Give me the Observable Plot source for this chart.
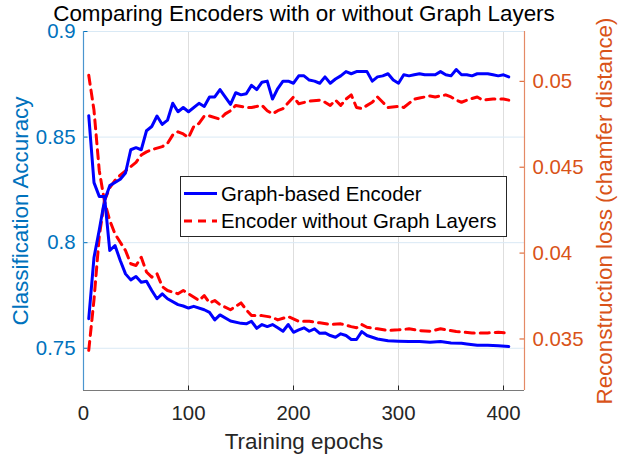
<!DOCTYPE html>
<html><head><meta charset="utf-8">
<script src="https://cdn.jsdelivr.net/npm/d3@7"></script>
<script src="https://cdn.jsdelivr.net/npm/@observablehq/plot@0.6"></script>
<style>
html,body{margin:0;padding:0;background:#fff;}
#wrap{position:relative;width:620px;height:454px;overflow:hidden;font-family:"Liberation Sans",Arial,sans-serif;}
#wrap svg{position:absolute;left:0;top:0;}
</style></head><body><div id="wrap"></div>
<script>
const titleText = "Comparing Encoders with or without Graph Layers";
const xLabel = "Training epochs";
const accLabel = "Classification Accuracy";
const lossLabel = "Reconstruction loss (chamfer distance)";
const seriesNames = ["Graph-based Encoder", "Encoder without Graph Layers"];
const xTicks = [0, 100, 200, 300, 400];
const accTicks = [0.75, 0.8, 0.85, 0.9];
const lossTicks = [0.035, 0.04, 0.045, 0.05];
const xDomain = [0, 420];
const accDomain = [0.73, 0.9];
const lossDomain = [0.032, 0.0529];

// Graph-based Encoder: classification accuracy (left axis)
const graphAccEpochs = [5,10,15,20,25,35,40,45,50,55,60,65,70,75,80,85,90,95,100,110,115,120,125,130,140,145,150,155,160,165,170,175,180,185,190,195,200,205,210,215,220,225,230,235,240,245,250,255,260,265,270,275,280,285,290,295,300,305,310,315,320,325,335,340,345,350,355,360,365,370,375,385,390,395,400,405];
const graphAcc = [0.764,0.793,0.806,0.820,0.827,0.830,0.833,0.844,0.845,0.844,0.853,0.855,0.860,0.856,0.858,0.866,0.862,0.864,0.862,0.866,0.8645,0.869,0.869,0.8725,0.8655,0.871,0.870,0.8705,0.8745,0.8725,0.876,0.8765,0.868,0.873,0.8765,0.8765,0.8755,0.879,0.879,0.877,0.8765,0.8755,0.8785,0.8755,0.8775,0.879,0.881,0.880,0.881,0.881,0.881,0.8765,0.8785,0.879,0.880,0.877,0.8755,0.8795,0.879,0.8795,0.880,0.8795,0.8795,0.881,0.8795,0.879,0.882,0.8795,0.8795,0.879,0.880,0.880,0.8795,0.879,0.8795,0.8785];

// Encoder without Graph Layers: classification accuracy (left axis)
const plainAccEpochs = [5,10,15,20,25,30,35,45,50,55,60,65,75,80,85,90,95,100,105,110,115,120,130,135,140,145,155,160,170,175,180,185,190,200,205,215,225,230,235,240,245,250,255,260,265,275,280,285,290,300,305,315,320,330,335,345,350,355,360,365,375,380,390,395,400,405];
const plainAcc = [0.749,0.773,0.803,0.820,0.826,0.8295,0.832,0.836,0.838,0.8415,0.843,0.844,0.8455,0.847,0.851,0.8525,0.8515,0.8498,0.855,0.8565,0.860,0.860,0.8585,0.861,0.8625,0.865,0.864,0.864,0.865,0.8625,0.861,0.8625,0.8635,0.869,0.8658,0.867,0.8675,0.8665,0.865,0.8675,0.865,0.868,0.870,0.864,0.8635,0.8665,0.869,0.8665,0.864,0.8645,0.864,0.868,0.8685,0.8695,0.869,0.870,0.869,0.8675,0.8665,0.8675,0.869,0.8675,0.868,0.868,0.868,0.8675];

// Graph-based Encoder: reconstruction loss (right axis)
const graphLossEpochs = [5,10,15,20,25,30,35,40,45,50,55,60,65,70,75,80,90,95,100,105,115,120,125,130,140,150,155,160,165,170,175,180,185,190,195,200,205,210,215,220,225,230,235,240,245,250,255,260,265,270,275,280,290,300,310,320,330,340,350,360,365,375,385,395,405];
const graphLoss = [0.0480,0.0441,0.0433,0.0433,0.04015,0.04044,0.03957,0.03879,0.03844,0.03864,0.0383,0.03836,0.03782,0.03734,0.03763,0.03734,0.0370,0.03692,0.0368,0.0369,0.0367,0.03655,0.03611,0.0364,0.03605,0.03591,0.03588,0.03603,0.03562,0.03584,0.03572,0.03584,0.03565,0.03545,0.03584,0.03539,0.03553,0.03565,0.03545,0.03559,0.03533,0.03535,0.0352,0.0351,0.0353,0.0352,0.03497,0.03497,0.03543,0.0352,0.0351,0.0350,0.0349,0.03487,0.03485,0.03485,0.03481,0.03485,0.03477,0.03475,0.03471,0.03463,0.03463,0.03461,0.03456];

// Encoder without Graph Layers: reconstruction loss (right axis)
const plainLossEpochs = [5,10,15,20,25,30,35,40,45,50,55,60,65,70,75,80,90,95,100,110,115,120,125,130,140,150,155,160,170,180,185,195,205,215,225,235,245,255,260,265,270,280,290,300,310,320,330,340,355,370,385,395,405];
const plainLoss = [0.05035,0.04831,0.04481,0.0430,0.0419,0.04112,0.04063,0.04015,0.03938,0.03928,0.03976,0.0389,0.0386,0.0388,0.03805,0.03782,0.03763,0.03782,0.03763,0.03724,0.03753,0.0371,0.03724,0.0370,0.0367,0.0371,0.0367,0.03636,0.03636,0.03626,0.03611,0.0363,0.03603,0.03603,0.03594,0.03584,0.03588,0.03572,0.03565,0.03584,0.03568,0.03559,0.03549,0.03553,0.03559,0.03549,0.03545,0.03559,0.03543,0.03535,0.03535,0.03539,0.03533];

const rows = (es, vs) => es.map((e, i) => ({epoch: e, value: vs[i]}));

const W = 620, H = 454;
const M = {top: 31, right: 96, bottom: 64, left: 83};
const FW = W - M.left - M.right, FH = H - M.top - M.bottom;
const TL = 4.5;
const BLUE = "#0072BD", ORANGE = "#D95319", DARK = "#262626";
const LINE_COLORS = ["#0000FF", "#FF0000"];
const LINE_DASH = [null, "9,6"];
const FONT = '"Liberation Sans", Arial, Helvetica, sans-serif';
const TICK_FS = 20.4, LABEL_FS = 22.4;
const fmt = d => String(d);
const base = {
  width: W, height: H,
  marginTop: M.top, marginRight: M.right, marginBottom: M.bottom, marginLeft: M.left,
  style: {fontFamily: FONT, background: "transparent", overflow: "visible"}
};
const centered = {textAnchor: "middle", lineAnchor: "middle"};

const chartA = Plot.plot({
  ...base,
  x: {domain: xDomain, axis: null},
  y: {domain: accDomain, axis: null},
  marks: [
    Plot.ruleX(xTicks.filter(t => t > xDomain[0]), {stroke: "#dedede", strokeWidth: 1}),
    Plot.ruleY(accTicks, {stroke: "#d9e9f5", strokeWidth: 1}),
    Plot.tickX(xTicks.filter(t => t > xDomain[0]), {x: d => d, stroke: DARK, insetTop: FH - TL}),
    Plot.tickY(accTicks, {y: d => d, stroke: BLUE, insetRight: FW - TL}),
    Plot.ruleY([accDomain[0]], {stroke: "#7a7a7a", strokeWidth: 1.2}),
    Plot.ruleX([xDomain[0]], {stroke: "#4a95cf", strokeWidth: 1.2}),
    Plot.axisX(xTicks, {tickSize: 0, tickPadding: 15, fontSize: TICK_FS, color: DARK, label: null, tickFormat: fmt}),
    Plot.axisY(accTicks, {anchor: "left", tickSize: 0, tickPadding: 8, fontSize: TICK_FS, color: BLUE, label: null, tickFormat: fmt}),
    Plot.line(rows(plainAccEpochs, plainAcc), {x: "epoch", y: "value", stroke: LINE_COLORS[1], strokeWidth: 3, strokeDasharray: LINE_DASH[1]}),
    Plot.line(rows(graphAccEpochs, graphAcc), {x: "epoch", y: "value", stroke: LINE_COLORS[0], strokeWidth: 3}),
    Plot.text([titleText], {text: d => d, frameAnchor: "top", dy: -17.5, fontSize: LABEL_FS, fill: "#000", ...centered}),
    Plot.text([accLabel], {text: d => d, frameAnchor: "left", rotate: -90, dx: -63, fontSize: LABEL_FS, fill: BLUE, ...centered}),
    Plot.text([xLabel], {text: d => d, frameAnchor: "bottom", dy: 51, fontSize: LABEL_FS, fill: DARK, ...centered})
  ]
});

const chartB = Plot.plot({
  ...base,
  x: {domain: xDomain, axis: null},
  y: {domain: lossDomain, axis: null},
  marks: [
    Plot.tickY(lossTicks, {y: d => d, stroke: ORANGE, insetLeft: FW - TL}),
    Plot.ruleX([xDomain[1]], {stroke: "#e48a66", strokeWidth: 1.2}),
    Plot.axisY(lossTicks, {anchor: "right", tickSize: 0, tickPadding: 8, fontSize: TICK_FS, color: ORANGE, label: null, tickFormat: fmt}),
    Plot.line(rows(plainLossEpochs, plainLoss), {x: "epoch", y: "value", stroke: LINE_COLORS[1], strokeWidth: 3, strokeDasharray: LINE_DASH[1]}),
    Plot.line(rows(graphLossEpochs, graphLoss), {x: "epoch", y: "value", stroke: LINE_COLORS[0], strokeWidth: 3}),
    Plot.text([lossLabel], {text: d => d, frameAnchor: "right", rotate: -90, dx: 80, fontSize: LABEL_FS, fill: ORANGE, ...centered})
  ]
});

const wrap = document.getElementById("wrap");
wrap.appendChild(chartA);
wrap.appendChild(chartB);

// legend
const legend = d3.create("svg").attr("width", W).attr("height", H)
  .style("position", "absolute").style("left", "0").style("top", "0")
  .style("font-family", FONT);
const box = {x: 180.5, y: 176.5, w: 326, h: 60};
legend.append("rect").attr("x", box.x).attr("y", box.y).attr("width", box.w).attr("height", box.h)
  .attr("fill", "#fff").attr("stroke", DARK).attr("stroke-width", 1);
seriesNames.forEach((name, i) => {
  const cy = 193.5 + i * 27.5;
  legend.append("line").attr("x1", 184).attr("x2", 217).attr("y1", cy).attr("y2", cy)
    .attr("stroke", LINE_COLORS[i]).attr("stroke-width", 3)
    .attr("stroke-dasharray", LINE_DASH[i] ? "8,6" : null);
  legend.append("text").attr("x", 221).attr("y", cy).attr("dy", "0.35em")
    .attr("font-size", TICK_FS).attr("fill", "#000").text(name);
});
wrap.appendChild(legend.node());
</script></body></html>
